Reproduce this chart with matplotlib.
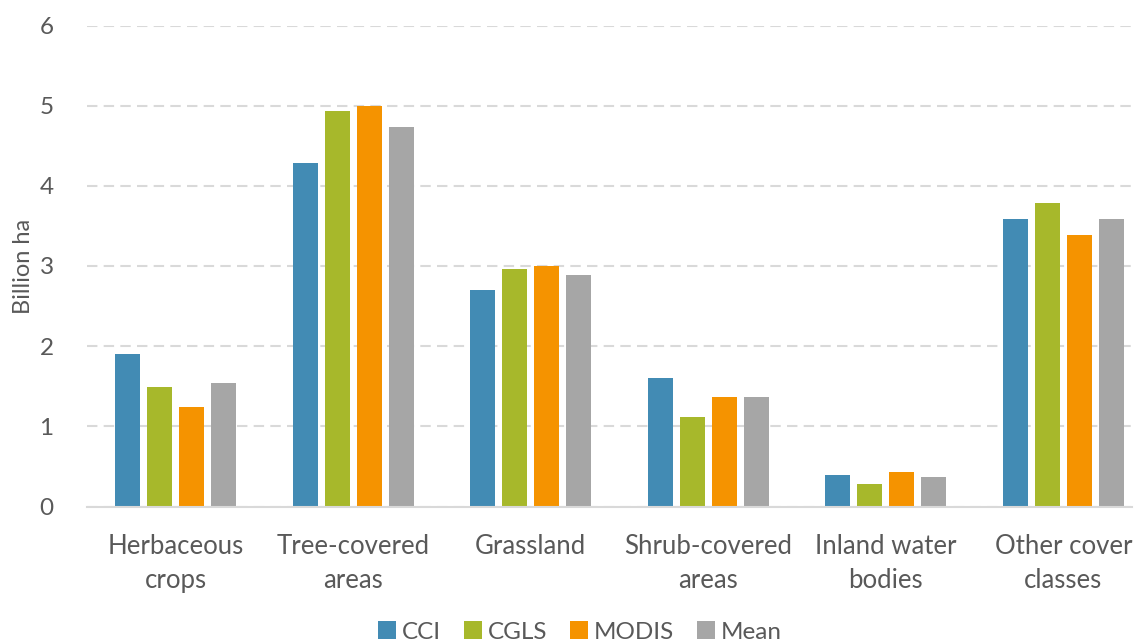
"""Global land cover area by class and data source."""
import matplotlib.pyplot as plt
import numpy as np

categories = ["Herbaceous\ncrops", "Tree-covered\nareas", "Grassland",
              "Shrub-covered\nareas", "Inland water\nbodies", "Other cover\nclasses"]
series = ["CCI", "CGLS", "MODIS", "Mean"]
cci = [1.90, 4.29, 2.70, 1.60, 0.39, 3.59]
cgls = [1.49, 4.93, 2.96, 1.12, 0.28, 3.78]
modis = [1.24, 4.99, 3.00, 1.37, 0.43, 3.39]
mean = [1.54, 4.74, 2.89, 1.36, 0.37, 3.59]
colors = ["#428BB4", "#A7B82B", "#F59300", "#A6A6A6"]

TEXT = "#595959"
GRID = "#D9D9D9"
plt.rcParams["font.family"] = ["Lato", "DejaVu Sans"]

fig = plt.figure(figsize=(11.36, 6.44), dpi=100)
ax = fig.add_axes([87 / 1136, 137.5 / 644, (1132 - 87) / 1136, 481 / 644])

x = np.arange(len(categories))
slot = 0.18
width = 0.14
for i, (name, vals, c) in enumerate(zip(series, [cci, cgls, modis, mean], colors)):
    ax.bar(x + (i - 1.5) * slot, vals, width, color=c, label=name, zorder=3)

ax.set_ylim(0, 6)
ax.set_xlim(-0.5, 5.387)
ax.set_yticks(range(7))
ax.set_xticks(x)
ax.set_xticklabels(categories, fontsize=18.5, color=TEXT, linespacing=1.45)
ax.tick_params(axis="y", labelsize=17.5, labelcolor=TEXT, length=0, pad=24)
ax.tick_params(axis="x", length=0, pad=20)
ax.set_ylabel("Billion ha", fontsize=17, color=TEXT)
ax.yaxis.set_label_coords(-0.051, 0.5)

ax.grid(axis="y", color=GRID, linestyle=(0, (5, 3)), linewidth=1.5, zorder=0)
for s in ["top", "right", "left"]:
    ax.spines[s].set_visible(False)
ax.spines["bottom"].set_color(GRID)
ax.spines["bottom"].set_linewidth(1.5)
ax.spines["bottom"].set_zorder(4)

fig.legend(loc="center", bbox_to_anchor=(580 / 1136, 1 - 632 / 644), ncol=4,
           frameon=False, fontsize=17.5, labelcolor=TEXT, handlelength=0.72,
           handleheight=0.72, handletextpad=0.25, columnspacing=0.95)

fig.savefig("out.png", dpi=100)
